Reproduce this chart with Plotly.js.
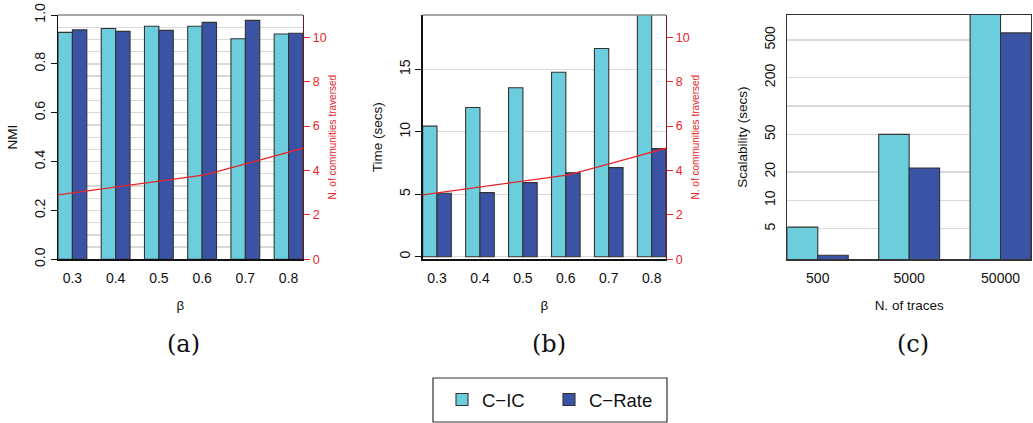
<!DOCTYPE html>
<html><head><meta charset="utf-8">
<script src="https://cdn.plot.ly/plotly-3.0.1.min.js"></script>
<style>html,body{margin:0;padding:0;background:#fff}#chart{width:1033px;height:423px}</style>
</head><body><div id="chart"></div>
<script>
// ---- data ----
const betaLabels = ['0.3','0.4','0.5','0.6','0.7','0.8'];
const betaValues = [0.3,0.4,0.5,0.6,0.7,0.8];
const nmiCIC   = [0.929,0.945,0.954,0.954,0.903,0.922];
const nmiCRate = [0.939,0.933,0.937,0.970,0.978,0.925];
const timeCIC   = [10.45,11.94,13.52,14.77,16.67,19.6];
const timeCRate = [5.08,5.13,5.93,6.71,7.13,8.65];
const communities = [2.9,3.2,3.5,3.8,4.4,5.0];
const traceLabels = ['500','5000','50000'];
const scalCIC   = [5.2,50,1000];
const scalCRate = [2.62,22,595];
const seriesNames = ['C\u2212IC','C\u2212Rate'];
const nmiTicks = [0,0.2,0.4,0.6,0.8,1.0];
const nmiTickText = ['0.0','0.2','0.4','0.6','0.8','1.0'];
const commTicks = [0,2,4,6,8,10];
const timeTicks = [0,5,10,15];
const scalTicks = [5,10,20,50,100,200,500];
const scalTickText = ['5','10','20','50','','200','500'];

// ---- style ----
const W = 1033, H = 423;
const FONT = 'Liberation Sans, Arial, Helvetica, sans-serif';
const CYAN = '#6CCDDC', BLUE = '#3A53A4', OUTLINE = '#333333', RED = '#E8262A';
const GRID = '#d9d9d9';
const px = x => x / W, py = y => 1 - y / H;
const yDom = [py(259.3), py(15)];
const domA = [px(58), px(303)], domB = [px(422.7), px(666)], domC = [px(787.3), px(1031)];
const catRange = n => [-1/3, n - 1 + 1/3];

function bar(x, y, i, xa, ya, show) {
  return {type:'bar', x:x, y:y, name:seriesNames[i], xaxis:xa, yaxis:ya, showlegend:show,
    marker:{color: i===0 ? CYAN : BLUE, line:{color:OUTLINE, width:1.1}}, hoverinfo:'skip'};
}
function line(xa, ya) {
  return {type:'scatter', mode:'lines', x:betaValues, y:communities, xaxis:xa, yaxis:ya,
    showlegend:false, line:{color:RED, width:1.3}, hoverinfo:'skip'};
}
const data = [
  bar(betaLabels, nmiCIC, 0, 'x', 'y', true),
  bar(betaLabels, nmiCRate, 1, 'x', 'y', true),
  line('x2', 'y2'),
  bar(betaLabels, timeCIC, 0, 'x3', 'y3', false),
  bar(betaLabels, timeCRate, 1, 'x3', 'y3', false),
  line('x4', 'y4'),
  bar(traceLabels, scalCIC, 0, 'x5', 'y5', false),
  bar(traceLabels, scalCRate, 1, 'x5', 'y5', false)
];

const tf = (s, c) => ({family:FONT, size:s, color:c || '#111'});
function catX(dom, anchor, n, title) {
  return {domain:dom, anchor:anchor, type:'category', range:catRange(n), showline:true, linecolor:'#111', linewidth:1.3,
    ticks:'outside', ticklen:6, tickcolor:'rgba(0,0,0,0)', tickfont:tf(14), showgrid:false, zeroline:false,
    fixedrange:true, title:{text:title, font:tf(13.5), standoff:15}, automargin:false};
}
function hiddenX(over, anchor) {
  return {overlaying:over, anchor:anchor, range:[0.3,0.8], visible:false, fixedrange:true};
}
function rightY(over, anchor) {
  return {overlaying:over, anchor:anchor, side:'right', range:[0,11], tickvals:commTicks,
    ticks:'outside', ticklen:6, tickcolor:RED, tickfont:tf(12.5, RED), showline:true, linecolor:'#6b1d1d', linewidth:1.3,
    showgrid:false, zeroline:false, automargin:false,
    title:{text:'N. of communities traversed', font:tf(10, RED), standoff:3}};
}
const serif = {family:'DejaVu Serif, serif', size:24, color:'#111'};
function panelLabel(t, x) {
  return {text:t, x:px(x), y:py(344), xref:'paper', yref:'paper', xanchor:'center', yanchor:'middle', showarrow:false, font:serif};
}

const layout = {
  width:W, height:H, margin:{l:0,r:0,t:0,b:0}, paper_bgcolor:'#fff', plot_bgcolor:'#fff',
  barmode:'group', bargap:1/3, bargroupgap:0, font:{family:FONT},
  xaxis: catX(domA, 'y', 6, '\u03b2'),
  yaxis: {domain:yDom, anchor:'x', range:[0,1], tickvals:nmiTicks, ticktext:nmiTickText, tickangle:-90,
    ticks:'outside', ticklen:6, tickcolor:'#111', tickfont:tf(14), showline:true, linecolor:'#111', linewidth:1.3,
    showgrid:true, gridcolor:GRID, gridwidth:1.3, zeroline:false, automargin:false,
    minor:{dtick:0.05, tick0:0, showgrid:true, gridcolor:GRID, gridwidth:1.3, ticks:''},
    title:{text:'NMI', font:tf(13.5), standoff:11}},
  xaxis2: hiddenX('x', 'y2'),
  yaxis2: rightY('y', 'x'),
  xaxis3: catX(domB, 'y3', 6, '\u03b2'),
  yaxis3: {domain:yDom, anchor:'x3', range:[-0.21,19.35], tickvals:timeTicks, tickangle:-90,
    ticks:'outside', ticklen:6, tickcolor:'#111', tickfont:tf(14), showline:true, linecolor:'#111', linewidth:1.3,
    showgrid:true, gridcolor:GRID, gridwidth:1.3, zeroline:false, automargin:false,
    title:{text:'Time (secs)', font:tf(13.5), standoff:11}},
  xaxis4: hiddenX('x3', 'y4'),
  yaxis4: rightY('y3', 'x3'),
  xaxis5: Object.assign(catX(domC, 'y5', 3, 'N. of traces'), {mirror:true, linecolor:'#333'}),
  yaxis5: {domain:yDom, anchor:'x5', type:'log', range:[0.375,2.964], tickvals:scalTicks, ticktext:scalTickText,
    tickangle:-90, ticks:'outside', ticklen:5, tickcolor:'rgba(0,0,0,0)', tickfont:tf(14),
    showline:true, mirror:true, linecolor:'#333', linewidth:1.3,
    showgrid:true, gridcolor:GRID, gridwidth:1.3, zeroline:false, automargin:false,
    title:{text:'Scalability (secs)', font:tf(13.5), standoff:11}},
  shapes: [
    {type:'line', xref:'x domain', yref:'y domain', x0:0, x1:1, y0:1, y1:1, line:{color:'#888', width:1.3}},
    {type:'line', xref:'x3 domain', yref:'y3 domain', x0:0, x1:1, y0:1, y1:1, line:{color:'#888', width:1.3}},
    {type:'rect', xref:'paper', yref:'paper', x0:px(433), x1:px(667), y0:py(422), y1:py(378), line:{color:'#333', width:1.2}}
  ],
  annotations: [panelLabel('(a)', 183), panelLabel('(b)', 549), panelLabel('(c)', 913)],
  legend: {orientation:'h', x:px(442), xanchor:'left', y:py(400), yanchor:'middle', bgcolor:'rgba(0,0,0,0)',
    borderwidth:0, font:tf(18.5), entrywidth:62, entrywidthmode:'pixels', traceorder:'normal'},
  showlegend:true
};

Plotly.newPlot('chart', data, layout, {displayModeBar:false, staticPlot:true});
</script></body></html>
